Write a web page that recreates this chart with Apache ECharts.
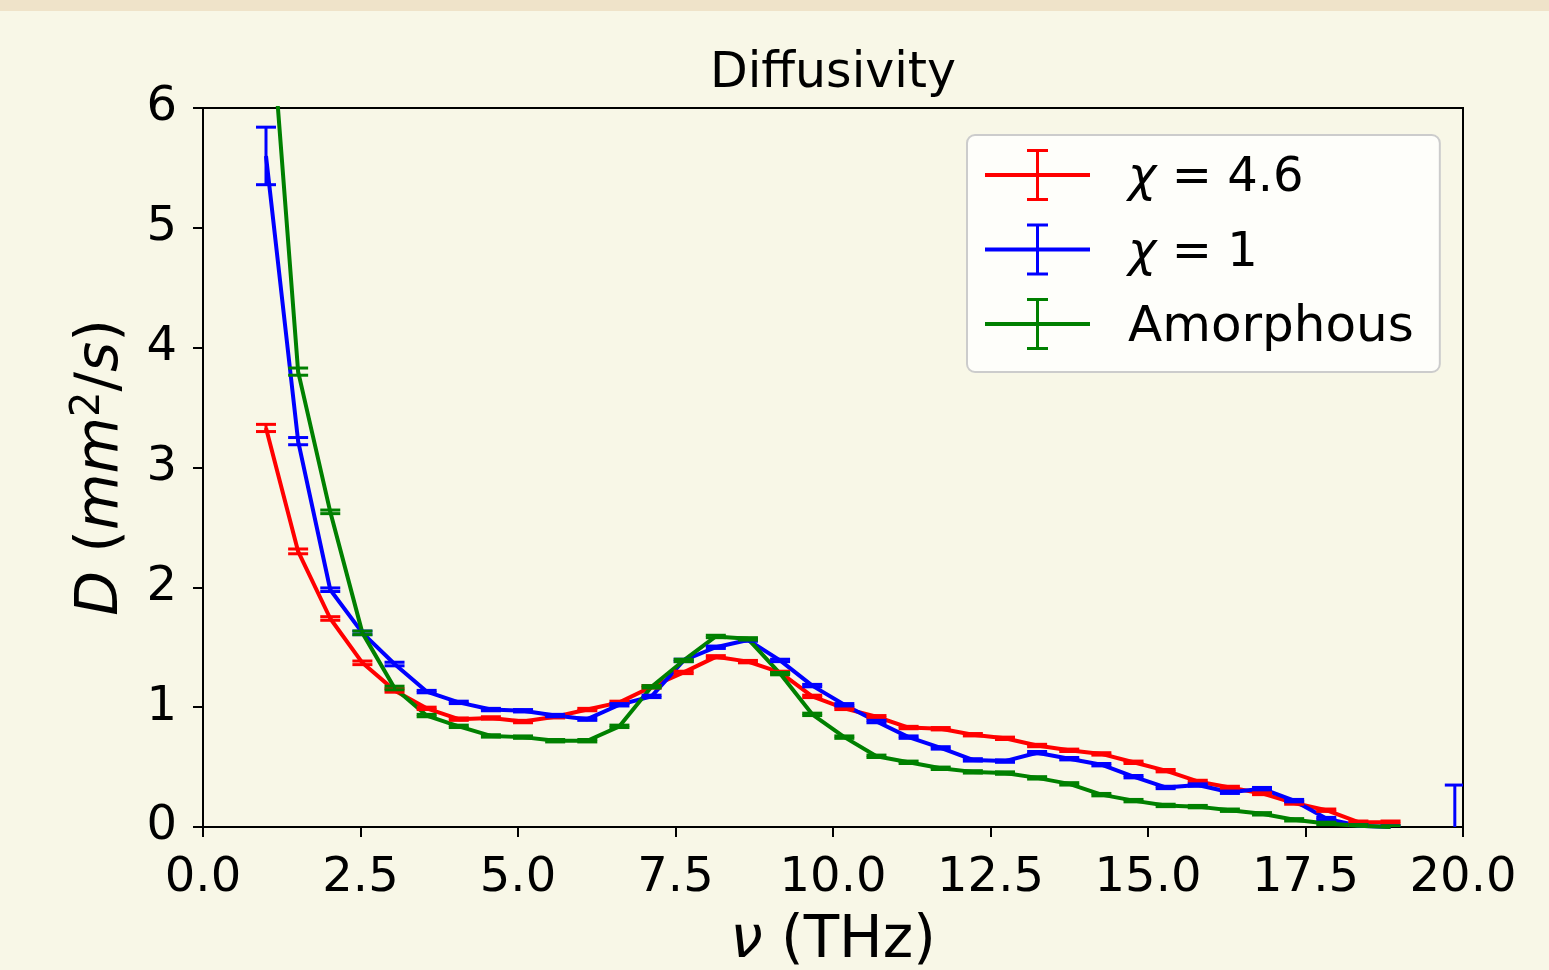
<!DOCTYPE html>
<html>
<head>
<meta charset="utf-8">
<script src="https://cdn.jsdelivr.net/npm/echarts@6/dist/echarts.min.js"></script>
<style>
html,body{margin:0;padding:0;background:#f8f7e7;}
#c{width:1549px;height:970px;}
</style>
</head>
<body>
<div id="c"></div>
<script>
// Frequency bins (THz)
const freq = [1.00, 1.51, 2.02, 2.53, 3.04, 3.55, 4.06, 4.57, 5.08, 5.59, 6.10, 6.61, 7.12, 7.63, 8.14, 8.65, 9.16, 9.67, 10.18, 10.69,
              11.20, 11.71, 12.22, 12.73, 13.24, 13.75, 14.26, 14.77, 15.28, 15.79, 16.30, 16.81, 17.32, 17.83, 18.34, 18.85, 19.36, 19.87];

// chi = 4.6
const redD   = [3.33, 2.30, 1.74, 1.37, 1.14, 0.99, 0.90, 0.91, 0.88, 0.92, 0.98, 1.04, 1.17, 1.29, 1.42, 1.38, 1.29, 1.09, 0.99, 0.92,
                0.83, 0.82, 0.77, 0.74, 0.68, 0.64, 0.61, 0.54, 0.47, 0.38, 0.33, 0.28, 0.20, 0.14, 0.04, 0.04];
const redErr = [0.03, 0.02, 0.015, 0.015, 0.015, 0.01, 0.01, 0.01, 0.01, 0.01, 0.01, 0.01, 0.01, 0.01, 0.01, 0.01, 0.01, 0.01, 0.01, 0.01,
                0.01, 0.01, 0.01, 0.01, 0.01, 0.01, 0.01, 0.01, 0.01, 0.01, 0.01, 0.01, 0.01, 0.01, 0.01, 0.01];

// chi = 1 (null = empty bin)
const blueD   = [5.60, 3.22, 1.98, 1.62, 1.36, 1.13, 1.04, 0.98, 0.97, 0.93, 0.90, 1.02, 1.09, 1.39, 1.50, 1.56, 1.39, 1.18, 1.02, 0.88,
                 0.75, 0.66, 0.56, 0.55, 0.62, 0.57, 0.52, 0.42, 0.33, 0.35, 0.29, 0.32, 0.22, 0.07, 0.01, 0.00, null, 0.00];
const blueErr = [0.24, 0.03, 0.015, 0.015, 0.015, 0.01, 0.01, 0.01, 0.01, 0.01, 0.01, 0.01, 0.01, 0.01, 0.01, 0.01, 0.01, 0.01, 0.01, 0.01,
                 0.01, 0.01, 0.01, 0.01, 0.01, 0.01, 0.01, 0.01, 0.01, 0.01, 0.01, 0.01, 0.01, 0.01, 0.01, 0.01, null, 0.35];

// Amorphous
const greenD   = [7.30, 3.80, 2.63, 1.62, 1.16, 0.93, 0.84, 0.76, 0.75, 0.72, 0.72, 0.84, 1.17, 1.39, 1.59, 1.57, 1.28, 0.94, 0.75, 0.59,
                  0.54, 0.49, 0.46, 0.45, 0.41, 0.36, 0.27, 0.22, 0.18, 0.17, 0.14, 0.11, 0.06, 0.03, 0.01, 0.00];
const greenErr = [0.05, 0.03, 0.015, 0.015, 0.015, 0.01, 0.01, 0.01, 0.01, 0.01, 0.01, 0.01, 0.01, 0.01, 0.01, 0.01, 0.01, 0.01, 0.01, 0.01,
                  0.01, 0.01, 0.01, 0.01, 0.01, 0.01, 0.01, 0.01, 0.01, 0.01, 0.01, 0.01, 0.01, 0.01, 0.01, 0.01];

const xTicks = { min: 0, max: 20, interval: 2.5 };
const yTicks = { min: 0, max: 6, interval: 1 };

const FONT = 'DejaVu Sans';

function pts(vals) { return vals.map((v, i) => [freq[i], v === null ? '-' : v]); }
function errPts(vals, errs) {
  const out = [];
  vals.forEach((v, i) => { if (v !== null) out.push([freq[i], v, errs[i]]); });
  return out;
}

function errRender(params, api) {
  const x = api.value(0), y = api.value(1), e = api.value(2);
  const top = api.coord([x, y + e]);
  const bot = api.coord([x, y - e]);
  const hw = 10;
  const style = { stroke: api.visual('color'), lineWidth: 3, fill: null };
  return {
    type: 'group',
    children: [
      { type: 'line', shape: { x1: top[0], y1: top[1], x2: bot[0], y2: bot[1] }, style: style },
      { type: 'line', shape: { x1: top[0] - hw, y1: top[1], x2: top[0] + hw, y2: top[1] }, style: style },
      { type: 'line', shape: { x1: bot[0] - hw, y1: bot[1], x2: bot[0] + hw, y2: bot[1] }, style: style }
    ]
  };
}

function lineSeries(name, color, vals) {
  return {
    name: name, type: 'line', data: pts(vals), showSymbol: false, symbol: 'none', connectNulls: false,
    lineStyle: { color: color, width: 4 }, itemStyle: { color: color },
    clip: true, animation: false, z: 2
  };
}
function errSeries(name, color, vals, errs) {
  return {
    name: name, type: 'custom', data: errPts(vals, errs), renderItem: errRender,
    itemStyle: { color: color }, clip: true, animation: false, z: 3,
    encode: { x: 0, y: 1 }
  };
}

const legendIcon = 'path://M0,24h105v4h-105z M51,0h3v52h-3z M42,0h21v3h-21z M42,49h21v3h-21z';

const chart = echarts.init(document.getElementById('c'), null, { renderer: 'canvas' });
chart.setOption({
  backgroundColor: '#f8f7e7',
  animation: false,
  textStyle: { fontFamily: FONT },
  graphic: [
    { type: 'rect', left: 0, top: 0, shape: { width: 1549, height: 11 }, style: { fill: '#efe3c9' }, silent: true }
  ],
  title: {
    text: 'Diffusivity', left: 833, top: 50, textAlign: 'center', padding: 0,
    textStyle: { fontFamily: FONT, fontSize: 49, fontWeight: 'normal', color: '#000' }
  },
  grid: {
    left: 203, right: 86, top: 108, bottom: 143,
    outerBoundsMode: 'none', containLabel: false,
    show: true, borderColor: '#000', borderWidth: 2, backgroundColor: '#f8f7e7'
  },
  legend: {
    orient: 'vertical', left: 967, top: 135,
    padding: [10, 26, 18, 18],
    itemWidth: 105, itemHeight: 52, itemGap: 14.5,
    icon: legendIcon,
    backgroundColor: 'rgba(255,255,255,0.8)', borderColor: '#cccccc', borderWidth: 2, borderRadius: 8,
    data: ['χ = 4.6', 'χ = 1', 'Amorphous'],
    formatter: function (name) {
      if (name.charAt(0) === 'χ') return '{i|χ}{n|' + name.slice(1) + '}';
      return '{a|' + name + '}';
    },
    textStyle: {
      fontFamily: FONT, fontSize: 48, color: '#000', padding: [8, 0, 0, 33], lineHeight: 52,
      rich: {
        i: { fontFamily: FONT, fontStyle: 'italic', fontSize: 48, color: '#000', lineHeight: 52 },
        n: { fontFamily: FONT, fontSize: 48, color: '#000', lineHeight: 52 },
        a: { fontFamily: FONT, fontSize: 50, color: '#000', lineHeight: 52 }
      }
    },
    selectedMode: false
  },
  xAxis: {
    type: 'value', min: xTicks.min, max: xTicks.max, interval: xTicks.interval,
    name: '{i|ν}{n| (THz)}', nameLocation: 'middle', nameGap: 86,
    nameTextStyle: {
      rich: {
        i: { fontFamily: FONT, fontStyle: 'italic', fontSize: 58, color: '#000' },
        n: { fontFamily: FONT, fontSize: 58, color: '#000' }
      }
    },
    axisLine: { show: true, onZero: false, lineStyle: { color: '#000', width: 2 } },
    axisTick: { show: true, inside: false, length: 10, lineStyle: { color: '#000', width: 2 } },
    axisLabel: { fontFamily: FONT, fontSize: 48, color: '#000', margin: 28, formatter: v => v.toFixed(1) },
    splitLine: { show: false }
  },
  yAxis: {
    type: 'value', min: yTicks.min, max: yTicks.max, interval: yTicks.interval,
    name: '{i|D}{n| (}{i|mm}{s|2}{n|/}{i|s}{n|)}', nameLocation: 'middle', nameGap: 68, nameRotate: 90,
    nameTextStyle: {
      rich: {
        i: { fontFamily: FONT, fontStyle: 'italic', fontSize: 58, color: '#000', lineHeight: 66 },
        n: { fontFamily: FONT, fontSize: 58, color: '#000', lineHeight: 66 },
        s: { fontFamily: FONT, fontSize: 40, color: '#000', verticalAlign: 'top', lineHeight: 40 }
      }
    },
    axisLine: { show: true, onZero: false, lineStyle: { color: '#000', width: 2 } },
    axisTick: { show: true, inside: false, length: 10, lineStyle: { color: '#000', width: 2 } },
    axisLabel: { fontFamily: FONT, fontSize: 48, color: '#000', margin: 26 },
    splitLine: { show: false }
  },
  series: [
    lineSeries('red', '#ff0000', redD),
    errSeries('χ = 4.6', '#ff0000', redD, redErr),
    lineSeries('blue', '#0000ff', blueD),
    errSeries('χ = 1', '#0000ff', blueD, blueErr),
    lineSeries('green', '#008000', greenD),
    errSeries('Amorphous', '#008000', greenD, greenErr)
  ]
});
</script>
</body>
</html>
